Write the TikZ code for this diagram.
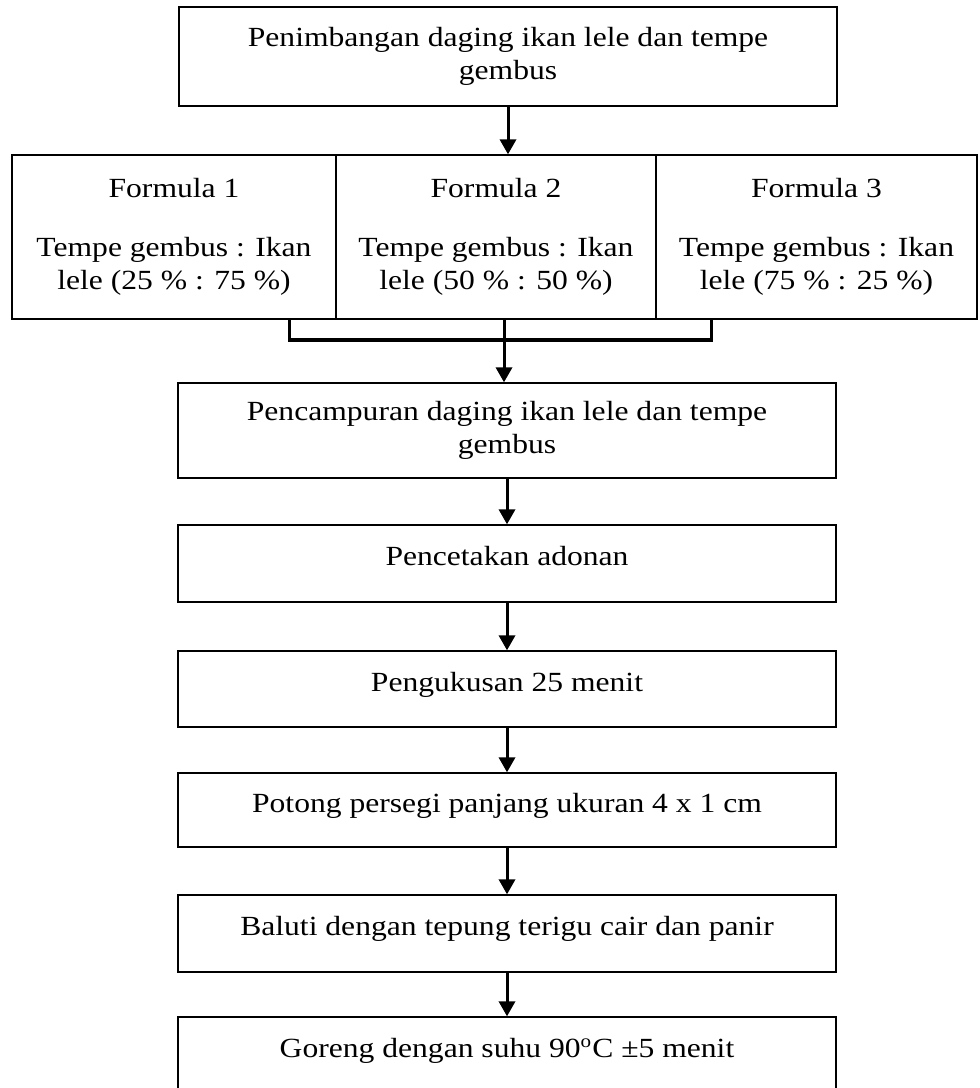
\documentclass[tikz,border=0pt]{standalone}
\usepackage{fontspec}
\setmainfont{Liberation Serif}[FakeStretch=1.14]
\usetikzlibrary{arrows.meta}
\newcommand{\px}{0.433pt}

\begin{document}
\begin{tikzpicture}[x=\px, y=-\px,
  every node/.style = {shape=rectangle, draw, align=center,
    line width=0.6pt, inner sep=0pt,
    font=\fontsize{12}{14.3}\selectfont},
  langkah/.style = {minimum width=658*\px, minimum height=77*\px},
  satubaris/.style = {langkah, text depth=6.5pt},
  formula/.style = {minimum height=164*\px},
  panah/.style = {line width=1.3pt, -{Triangle[length=6.5pt, width=7pt]}},
  garis/.style = {line width=1.3pt}]
  \useasboundingbox (0,0) rectangle (979,1088);
  \node[langkah, minimum height=99*\px] (timbang) at (508,56.5) {Penimbangan daging ikan lele dan tempe\\gembus};
  \node[formula, minimum width=324*\px] (f1) at (174,237) {Formula 1\\[11pt]Tempe gembus : Ikan\\lele (25 \% : 75 \%)};
  \node[formula, minimum width=320*\px] (f2) at (496,237) {Formula 2\\[11pt]Tempe gembus : Ikan\\lele (50 \% : 50 \%)};
  \node[formula, minimum width=321*\px] (f3) at (816.5,237) {Formula 3\\[11pt]Tempe gembus : Ikan\\lele (75 \% : 25 \%)};
  \node[langkah, minimum height=95*\px] (campur) at (507,430.5) {Pencampuran daging ikan lele dan tempe\\gembus};
  \node[satubaris] (cetak) at (507,563.5) {Pencetakan adonan};
  \node[satubaris, minimum height=76*\px] (kukus) at (507,689) {Pengukusan 25 menit};
  \node[satubaris, minimum height=74*\px] (potong) at (507,810) {Potong persegi panjang ukuran 4 x 1 cm};
  \node[satubaris] (balut) at (507,933.5) {Baluti dengan tepung terigu cair dan panir};
  \node[satubaris] (goreng) at (507,1055.5) {Goreng dengan suhu 90\textsuperscript{o}C ±5 menit};
  \coordinate (gabung) at (504,340);
  \draw[panah] (timbang.south) -- (timbang.south |- f2.north);
  \draw[garis] ([xshift=-47*\px]f1.south east) |- (gabung) -| ([xshift=56*\px]f3.south west);
  \draw[panah] (f2.south -| gabung) -- (gabung |- campur.north);
  \draw[panah] (campur) -- (cetak);
  \draw[panah] (cetak) -- (kukus);
  \draw[panah] (kukus) -- (potong);
  \draw[panah] (potong) -- (balut);
  \draw[panah] (balut) -- (goreng);
\end{tikzpicture}
\end{document}
